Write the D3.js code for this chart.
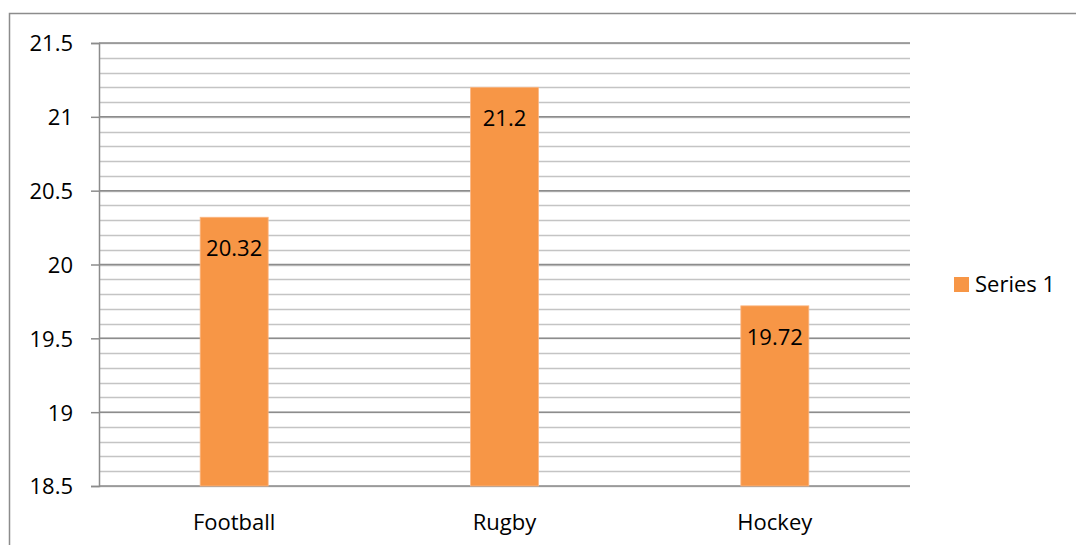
<!DOCTYPE html>
<html>
<head>
<meta charset="utf-8">
<script src="https://cdn.jsdelivr.net/npm/d3@7.9.0/dist/d3.min.js"></script>
<style>
  body { margin: 0; background: #fff; }
  svg { display: block; font-family: "Open Sans", "Liberation Sans", sans-serif; }
</style>
</head>
<body>
<svg id="chart" width="1076" height="545"></svg>
<script>
// chart data
const categories = ['Football', 'Rugby', 'Hockey'];
const values = [20.32, 21.2, 19.72];
const seriesName = 'Series 1';
const yTicks = [18.5, 19, 19.5, 20, 20.5, 21, 21.5];

const svg = d3.select('#chart');
const plotLeft = 99, plotRight = 910, plotTop = 43, plotBottom = 486;
const fontSize = 22;

// outer frame (runs off the right / bottom of the picture)
svg.append('rect')
  .attr('x', 9.5).attr('y', 13.5)
  .attr('width', 1200).attr('height', 700)
  .attr('fill', 'none')
  .attr('stroke', '#8c8c8c')
  .attr('stroke-width', 1.5);

const x = d3.scaleBand().domain(categories).range([plotLeft, plotRight]);
const y = d3.scaleLinear().domain([18.5, 21.5]).range([plotBottom, plotTop]);

// minor gridlines every 0.1
const minor = d3.range(0, 31).map(i => 18.5 + i * 0.1);
svg.append('g').selectAll('line')
  .data(minor)
  .enter()
  .append('line')
  .attr('x1', plotLeft).attr('x2', plotRight)
  .attr('y1', d => Math.round(y(d)) + 0.5)
  .attr('y2', d => Math.round(y(d)) + 0.5)
  .attr('stroke', '#c4c4c4')
  .attr('stroke-width', 1.5);

// major gridlines + ticks
const yAxis = d3.axisLeft(y).tickValues(yTicks).tickSize(8)
  .tickFormat(d => String(d));
const ga = svg.append('g').attr('transform', `translate(${plotLeft},0)`).call(yAxis);
ga.select('.domain').attr('stroke', '#8c8c8c').attr('stroke-width', 1.5);
ga.selectAll('.tick line').attr('stroke', '#8c8c8c').attr('stroke-width', 1.5);
ga.selectAll('.tick text').attr('font-size', fontSize).attr('fill', '#000')
  .attr('font-family', '"Open Sans", sans-serif')
  .attr('x', -26).attr('dy', '0.36em');

svg.append('g').selectAll('line')
  .data(yTicks)
  .enter()
  .append('line')
  .attr('x1', plotLeft).attr('x2', plotRight)
  .attr('y1', d => y(d)).attr('y2', d => y(d))
  .attr('stroke', '#8c8c8c')
  .attr('stroke-width', 1.5);

// bars
const barW = 68;
svg.append('g').selectAll('rect')
  .data(values)
  .enter()
  .append('rect')
  .attr('x', (d, i) => x(categories[i]) + x.bandwidth() / 2 - barW / 2)
  .attr('y', d => y(d))
  .attr('width', barW)
  .attr('height', d => y(18.5) - y(d))
  .attr('fill', '#f79646')
  .attr('stroke', '#fab785')
  .attr('stroke-width', 0.8);

// value labels
svg.append('g').selectAll('text')
  .data(values)
  .enter()
  .append('text')
  .attr('x', (d, i) => x(categories[i]) + x.bandwidth() / 2)
  .attr('y', d => y(d) + 39)
  .attr('text-anchor', 'middle')
  .attr('font-size', fontSize)
  .attr('fill', '#000')
  .text(d => String(d));

// category labels
svg.append('g').selectAll('text')
  .data(categories)
  .enter()
  .append('text')
  .attr('x', d => x(d) + x.bandwidth() / 2)
  .attr('y', 530)
  .attr('text-anchor', 'middle')
  .attr('font-size', fontSize)
  .attr('fill', '#000')
  .text(d => d);

// legend
const lg = svg.append('g').attr('transform', 'translate(954,277)');
lg.append('rect').attr('width', 15).attr('height', 15).attr('fill', '#f79646');
lg.append('text').attr('x', 21).attr('y', 15)
  .attr('font-size', fontSize).attr('fill', '#000').text(seriesName);
</script>
</body>
</html>
